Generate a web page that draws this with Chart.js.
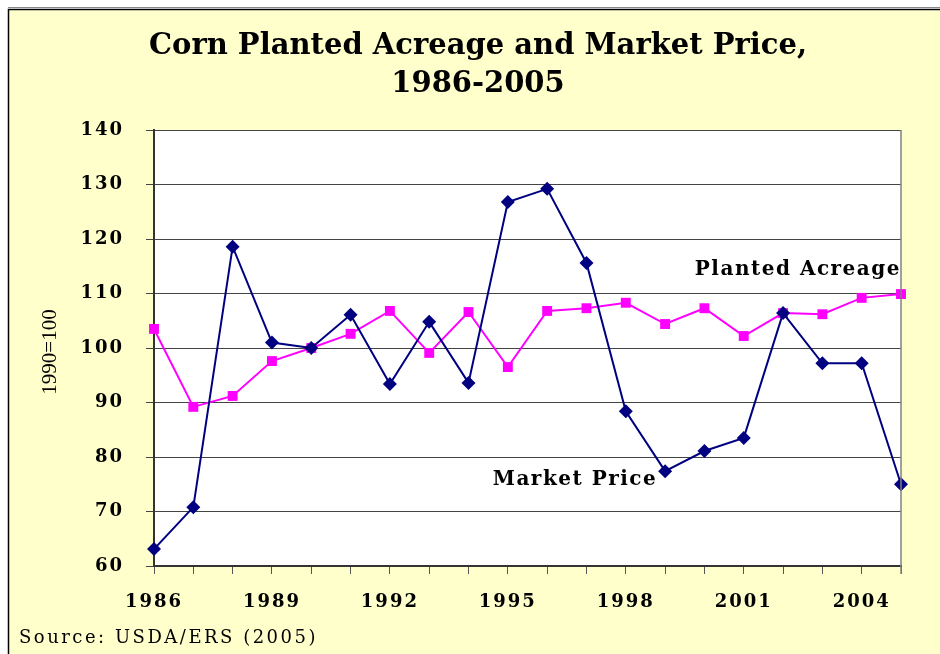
<!DOCTYPE html>
<html>
<head>
<meta charset="utf-8">
<script src="https://cdn.jsdelivr.net/npm/chart.js@4.4.1/dist/chart.umd.min.js"></script>
<style>
html,body{margin:0;padding:0;background:#fff;}
#wrap{width:940px;height:654px;position:relative;}
</style>
</head>
<body>
<div id="wrap"><canvas id="c" width="940" height="654"></canvas></div>
<script>
const years = ['1986','1987','1988','1989','1990','1991','1992','1993','1994','1995','1996','1997','1998','1999','2000','2001','2002','2003','2004','2005'];
const marketPrice = [63.1, 70.8, 118.6, 101.0, 100.0, 106.1, 93.4, 104.8, 93.6, 126.8, 129.2, 115.6, 88.4, 77.4, 81.1, 83.5, 106.4, 97.2, 97.2, 75.0];
const plantedAcreage = [103.5, 89.2, 91.2, 97.6, 100.0, 102.6, 106.8, 99.1, 106.6, 96.5, 106.8, 107.3, 108.3, 104.4, 107.3, 102.2, 106.4, 106.2, 109.2, 109.9];
const yTicks = [60, 70, 80, 90, 100, 110, 120, 130, 140];
const titleLines = ['Corn Planted Acreage and Market Price,', '1986-2005'];
const yAxisTitle = '1990=100';
const sourceText = 'Source: USDA/ERS (2005)';
const seriesLabels = [
  {text: 'Planted Acreage', xIndex: 19, y: 114.3, align: 'right'},
  {text: 'Market Price', xIndex: 12.8, y: 75.8, align: 'right'}
];

const SERIF = '"DejaVu Serif", "Liberation Serif", serif';

const decor = {
  id: 'decor',
  beforeDraw(chart) {
    const ctx = chart.ctx;
    const a = chart.chartArea;
    ctx.save();
    ctx.fillStyle = '#ffffff';
    ctx.fillRect(0, 0, chart.width, chart.height);
    ctx.fillStyle = '#FFFFCC';
    ctx.fillRect(8, 9, chart.width, chart.height);
    ctx.strokeStyle = '#888888';
    ctx.lineWidth = 1;
    ctx.beginPath(); ctx.moveTo(8, 7.5); ctx.lineTo(chart.width, 7.5); ctx.stroke();
    ctx.strokeStyle = '#000000';
    ctx.lineWidth = 1.5;
    ctx.strokeRect(8.5, 9.5, chart.width + 10, chart.height + 10);
    ctx.fillStyle = '#ffffff';
    ctx.fillRect(a.left, a.top, a.right - a.left, a.bottom - a.top);
    ctx.restore();
    ctx.letterSpacing = '2px';
  },
  afterDatasetsDraw(chart) {
    const ctx = chart.ctx;
    const a = chart.chartArea;
    ctx.save();
    ctx.strokeStyle = '#808080';
    ctx.lineWidth = 1.5;
    ctx.beginPath(); ctx.moveTo(a.right, a.top); ctx.lineTo(a.right, a.bottom + 8); ctx.stroke();
    const xs = chart.scales.x, ys = chart.scales.y;
    ctx.fillStyle = '#000';
    ctx.font = 'bold 20px ' + SERIF;
    ctx.letterSpacing = '1.5px';
    ctx.textBaseline = 'middle';
    seriesLabels.forEach(l => {
      ctx.textAlign = l.align;
      const i0 = Math.floor(l.xIndex), f = l.xIndex - i0;
      const px = xs.getPixelForValue(i0) + f * (xs.getPixelForValue(1) - xs.getPixelForValue(0));
      ctx.fillText(l.text, px, ys.getPixelForValue(l.y));
    });
    ctx.restore();
  },
  afterDraw(chart) {
    const ctx = chart.ctx;
    ctx.save();
    ctx.letterSpacing = '0px';
    ctx.fillStyle = '#000';
    ctx.textAlign = 'center';
    ctx.textBaseline = 'middle';
    ctx.font = 'bold 29px ' + SERIF;
    ctx.fillText(titleLines[0], 478, 46);
    ctx.fillText(titleLines[1], 478, 84);
    ctx.font = '21px "Liberation Serif", serif';
    ctx.translate(50, 352);
    ctx.rotate(-Math.PI / 2);
    ctx.fillText(yAxisTitle, 0, 0);
    ctx.restore();
    ctx.save();
    ctx.fillStyle = '#000';
    ctx.textAlign = 'left';
    ctx.textBaseline = 'middle';
    ctx.font = '18px ' + SERIF;
    ctx.letterSpacing = '2.5px';
    ctx.fillText(sourceText, 19, 638);
    ctx.restore();
  }
};

new Chart(document.getElementById('c'), {
  type: 'line',
  data: {
    labels: years,
    datasets: [
      {
        label: 'Market Price',
        data: marketPrice,
        borderColor: '#000080',
        backgroundColor: '#000080',
        borderWidth: 2,
        pointStyle: 'rectRot',
        pointRadius: 7,
        pointBorderWidth: 0,
        tension: 0
      },
      {
        label: 'Planted Acreage',
        data: plantedAcreage,
        borderColor: '#FF00FF',
        backgroundColor: '#FF00FF',
        borderWidth: 2,
        pointStyle: 'rect',
        pointRadius: 7,
        pointBorderWidth: 0,
        tension: 0
      }
    ]
  },
  options: {
    responsive: false,
    animation: false,
    layout: { padding: { left: 0, right: 39, top: 130, bottom: 0 } },
    plugins: { legend: { display: false }, title: { display: false }, tooltip: { enabled: false } },
    scales: {
      x: {
        type: 'category',
        offset: false,
        afterFit(s) { s.height = 88; },
        grid: { drawOnChartArea: false, drawTicks: true, tickLength: 8, color: '#555555', lineWidth: 1 },
        border: { display: true, color: '#333333', width: 2 },
        ticks: {
          autoSkip: false,
          maxRotation: 0,
          padding: 18,
          color: '#000',
          font: { family: SERIF, size: 18, weight: 'bold' },
          callback(v, i) { return i % 3 === 0 ? years[i] : ''; }
        }
      },
      y: {
        min: 60,
        max: 140,
        afterFit(s) { s.width = 154; },
        afterBuildTicks(s) { s.ticks = yTicks.map(v => ({ value: v })); },
        grid: { drawTicks: true, tickLength: 8, color: '#444444', lineWidth: 1 },
        border: { display: true, color: '#333333', width: 2 },
        ticks: {
          padding: 22,
          color: '#000',
          font: { family: SERIF, size: 18, weight: 'bold' }
        }
      }
    }
  },
  plugins: [decor]
});
</script>
</body>
</html>
